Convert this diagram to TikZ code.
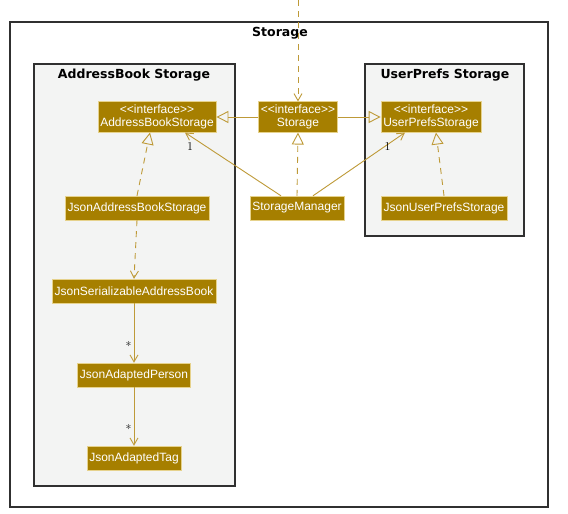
\documentclass[tikz,border=0pt]{standalone}
\usepackage{fontspec}
\setsansfont{Liberation Sans}
\newfontfamily\ttlfont{DejaVu Sans}
\usepackage{xcolor}
\usetikzlibrary{arrows.meta,positioning}
\definecolor{boxfill}{HTML}{A67F00}
\definecolor{boxedge}{HTML}{E6D28C}
\definecolor{lnk}{HTML}{BE9A38}
\definecolor{pkgbg}{HTML}{F3F4F3}
\definecolor{pkgedge}{HTML}{303030}
\newcommand{\iface}{{<}{<}interface{>}{>}}

\begin{document}
\begin{tikzpicture}[x=1pt,y=-1pt, >={Straight Barb[length=7pt,width=8pt]},
  cls/.style={draw=boxedge,fill=boxfill,text=white,font=\sffamily\fontsize{12}{13.5}\selectfont,align=center,inner xsep=2.5pt,inner ysep=3pt,minimum height=24pt},
  frm/.style={draw=pkgedge,line width=1.3pt},
  ttl/.style={font=\ttlfont\bfseries\fontsize{12.5}{14}\selectfont},
  mult/.style={text=black,font=\fontsize{12}{13}\selectfont,inner sep=1pt},
  lnkline/.style={draw=lnk,line width=0.9pt},
  real/.style={lnkline,dashed,dash pattern=on 6pt off 5pt,-{Triangle[open,length=12pt,width=12pt]}},
  gen/.style={lnkline,-{Triangle[open,length=12pt,width=12pt]}},
  assoc/.style={lnkline,->}]
\useasboundingbox (0,0) rectangle (568,514);
% packages
\draw[frm,fill=white] (10,22) rectangle (548,507);
\node[ttl] (tStorage) at (280,33) {Storage};
\draw[frm,fill=pkgbg] (34,64) rectangle (235,486);
\node[ttl] (tAB) at (134,75) {AddressBook Storage};
\draw[frm,fill=pkgbg] (365,64) rectangle (524,236);
\node[ttl] (tUP) at (445,75) {UserPrefs Storage};
% classes
\node[cls] (abs) at (157,117) {\iface\\AddressBookStorage};
\node[cls] (st) at (298,117) {\iface\\Storage};
\node[cls] (ups) at (431,117) {\iface\\UserPrefsStorage};
\node[cls] (jabs) at (137,208) {JsonAddressBookStorage};
\node[cls] (sm) at (297,208) {StorageManager};
\node[cls] (jups) at (444,208) {JsonUserPrefsStorage};
\node[cls] (jsab) at (134,291) {JsonSerializableAddressBook};
\node[cls] (jap) at (134,375) {JsonAdaptedPerson};
\node[cls] (jat) at (134,458) {JsonAdaptedTag};
\coordinate (top) at (298,0);
% links
\draw[lnkline,dashed,dash pattern=on 6pt off 5pt,->] (top) -- (st.north);
\draw[gen] (st.west) -- (abs.east);
\draw[gen] (st.east) -- (ups.west);
\draw[real] (sm.north) -- (st.south);
\draw[real] (jabs.north) -- ([xshift=-7pt]abs.south);
\draw[real] (jups.north) -- ([xshift=5pt]ups.south);
\draw[assoc] ([xshift=-16pt]sm.north) -- ([xshift=28pt]abs.south) node[pos=0.88,below left=1pt and 2pt,mult] (m1) {1};
\draw[assoc] ([xshift=16pt]sm.north) -- ([xshift=-26pt]ups.south) node[pos=0.88,below left=1pt and 2pt,mult] (m2) {1};
\draw[lnkline,dashed,dash pattern=on 6pt off 5pt,->] (jabs.south) -- (jsab.north);
\draw[assoc] (jsab) -- (jap) node[pos=0.72,left=1pt,mult] (m3) {*};
\draw[assoc] (jap) -- (jat) node[pos=0.72,left=1pt,mult] (m4) {*};
\end{tikzpicture}
\end{document}
